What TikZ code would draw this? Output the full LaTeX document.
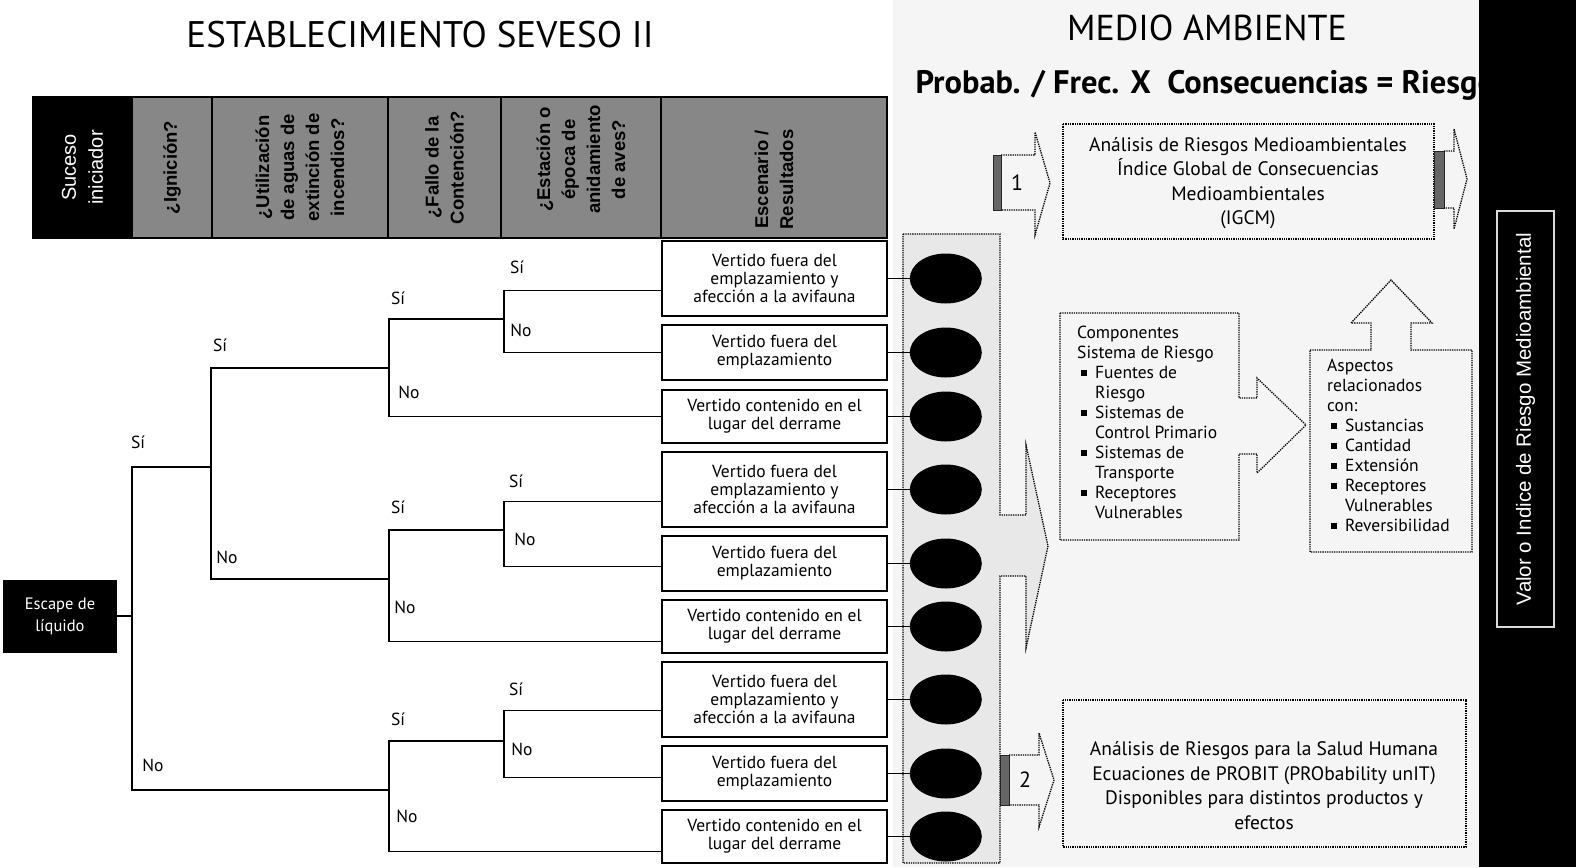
\documentclass[tikz,border=0pt]{standalone}
\usepackage{fontspec}
\setmainfont{PT Sans}
\newfontfamily\arialfont{Liberation Sans}
\usetikzlibrary{positioning,calc,shapes.geometric}
\newcommand*{\sq}{\hspace*{4pt}\rule[0.22ex]{0.34em}{0.34em}}

\begin{document}
\begin{tikzpicture}[x=1pt,y=-1pt,
  cell/.style={draw=black,line width=1.2pt,fill=black!47,minimum height=141pt,inner sep=0pt},
  htext/.style={rotate=90,align=center,font=\arialfont\bfseries\fontsize{18.5}{25}\selectfont},
  res/.style={draw=black,line width=1.2pt,fill=white,minimum width=225pt,align=center,inner sep=0pt,font=\fontsize{17.5}{18}\selectfont},
  blob/.style={ellipse,fill=black,minimum width=72pt,minimum height=50pt,inner sep=0pt},
  yn/.style={font=\fontsize{17.5}{20}\selectfont},
  dots/.style={densely dotted,line width=1.3pt},
  hatch/.style={fill=black!60,draw=black!85,line width=0.8pt},
  branch/.style={line width=1.4pt},
  info/.style={align=center,font=\fontsize{19.5}{24.5}\selectfont},
  lst/.style={anchor=west,inner sep=0pt,font=\fontsize{17.5}{20}\selectfont}]
\useasboundingbox (0,0) rectangle (1576,867);
\fill[white] (0,0) rectangle (1576,867);
% Light panel on the right
\fill[black!4] (893,0) rectangle (1479,867);
% Titles
\node[font=\fontsize{37}{40}\selectfont] (tit1) at (420,35) {ESTABLECIMIENTO SEVESO II};
\node[font=\fontsize{36}{40}\selectfont] (tit2) at (1207,28) {MEDIO AMBIENTE};
\node[anchor=west,font=\bfseries\fontsize{32.5}{36}\selectfont] (formula) at (912,85) {Probab. / Frec. X\ \ Consecuencias = Riesgo};
% Header row
\node[cell,fill=black,minimum width=99pt] (h0) at (82.5,167.5) {};
\node[htext,text=white,font=\arialfont\fontsize{20}{27}\selectfont] at (h0) {Suceso\\iniciador};
\node[cell,minimum width=80pt] (h1) at (172,167.5) {};
\node[htext] at (h1) {¿Ignición?};
\node[cell,minimum width=176pt] (h2) at (300,167.5) {};
\node[htext] at (h2) {¿Utilización\\de aguas de\\extinción de\\incendios?};
\node[cell,minimum width=113pt] (h3) at (444.5,167.5) {};
\node[htext] at (h3) {¿Fallo de la\\Contención?};
\node[cell,minimum width=160pt] (h4) at (581,167.5) {};
\node[htext,xshift=8pt] at (h4) {¿Estación o\\época de\\anidamiento\\de aves?};
\node[cell,minimum width=226pt] (h5) at (774,167.5) {};
\node[htext,xshift=-12pt] at (h5) {Escenario /\\Resultados};
% Initiating event
\node[fill=black,text=white,minimum width=114pt,minimum height=73pt,align=center,font=\fontsize{16.5}{22}\selectfont] (esc) at (60,616) {Escape de\\líquido};
% Scenario boxes
\node[res,minimum height=75pt] (r1) at (774.5,278.5) {Vertido fuera del\\emplazamiento y\\afección a la avifauna};
\node[res,minimum height=55pt] (r2) at (774.5,352.5) {Vertido fuera del\\emplazamiento};
\node[res,minimum height=53pt] (r3) at (774.5,416.5) {Vertido contenido en el\\lugar del derrame};
\node[res,minimum height=75pt] (r4) at (774.5,489.5) {Vertido fuera del\\emplazamiento y\\afección a la avifauna};
\node[res,minimum height=55pt] (r5) at (774.5,563.5) {Vertido fuera del\\emplazamiento};
\node[res,minimum height=53pt] (r6) at (774.5,626.5) {Vertido contenido en el\\lugar del derrame};
\node[res,minimum height=75pt] (r7) at (774.5,699.5) {Vertido fuera del\\emplazamiento y\\afección a la avifauna};
\node[res,minimum height=55pt] (r8) at (774.5,773.5) {Vertido fuera del\\emplazamiento};
\node[res,minimum height=53pt] (r9) at (774.5,836.5) {Vertido contenido en el\\lugar del derrame};
% Branch points
\coordinate (f1) at (132,616);
\coordinate (f2) at (211,467);
\coordinate (f3a) at (389,368);
\coordinate (f3b) at (389,579);
\coordinate (f3c) at (389,790);
\coordinate (f4a) at (504,319);
\coordinate (f4b) at (504,530);
\coordinate (f4c) at (504,741);
% Event tree
\draw[branch] (esc) -- (f1);
\draw[branch] (f2) -| (f1) |- (f3c);
\draw[branch] (f3a) -| (f2) |- (f3b);
\draw[branch] (f4a) -| (f3a) |- (r3.west);
\draw[branch] (f4b) -| (f3b) |- ([yshift=-15pt]r6.west);
\draw[branch] (f4c) -| (f3c) |- ([yshift=-15pt]r9.west);
\draw[branch] ([yshift=-12pt]r1.west) -| (f4a) |- (r2.west);
\draw[branch] ([yshift=-12pt]r4.west) -| (f4b) |- ([yshift=-3pt]r5.west);
\draw[branch] ([yshift=-11pt]r7.west) -| (f4c) |- ([yshift=-4pt]r8.west);
% Yes / no labels
\node[yn] (s1) at (138,442) {Sí};
\node[yn] (n1) at (153,765) {No};
\node[yn] (s2) at (220,345) {Sí};
\node[yn] (n2) at (227,557) {No};
\node[yn] (s3a) at (398,298) {Sí};
\node[yn] (n3a) at (409,392) {No};
\node[yn] (s3b) at (398,507) {Sí};
\node[yn] (n3b) at (405,607) {No};
\node[yn] (s3c) at (398,719) {Sí};
\node[yn] (n3c) at (407,816) {No};
\node[yn] (s4a) at (517,267) {Sí};
\node[yn] (n4a) at (521,330) {No};
\node[yn] (s4b) at (516,481) {Sí};
\node[yn] (n4b) at (525,539) {No};
\node[yn] (s4c) at (516,689) {Sí};
\node[yn] (n4c) at (522,749) {No};
% Frame round the results, with big arrow
\draw[dots,fill=black!9] (903,234) -- (1000,234) -- (1000,515) -- (1026,515) -- (1026,445) -- (1048,546) -- (1026,648) -- (1026,576) -- (1000,576) -- (1000,863) -- (903,863) -- cycle;
% Results
\node[blob,right=22pt of r1] (e1) {};
\node[blob,right=22pt of r2] (e2) {};
\node[blob,right=22pt of r3] (e3) {};
\node[blob,right=22pt of r4] (e4) {};
\node[blob,right=22pt of r5] (e5) {};
\node[blob,right=22pt of r6] (e6) {};
\node[blob,right=22pt of r7] (e7) {};
\node[blob,right=22pt of r8] (e8) {};
\node[blob,right=22pt of r9] (e9) {};
\draw[line width=1.2pt] (r1) -- (e1);
\draw[line width=1.2pt] (r2) -- (e2);
\draw[line width=1.2pt] (r3) -- (e3);
\draw[line width=1.2pt] (r4) -- (e4);
\draw[line width=1.2pt] (r5) -- (e5);
\draw[line width=1.2pt] (r6) -- (e6);
\draw[line width=1.2pt] (r7) -- (e7);
\draw[line width=1.2pt] (r8) -- (e8);
\draw[line width=1.2pt] (r9) -- (e9);
% Arrow 1 and environmental analysis
\path[hatch] (993,155) rectangle (1001,210);
\draw[dots] (1001,155) -- (1035,155) -- (1035,132) -- (1050,183) -- (1035,235) -- (1035,210) -- (1001,210);
\node[font=\fontsize{22}{24}\selectfont] (one) at (1017,183) {1};
\draw[dots] (1063,124) rectangle (1434,239);
\node[info] (igcm) at (1248,183) {Análisis de Riesgos Medioambientales\\Índice Global de Consecuencias\\Medioambientales\\(IGCM)};
\path[hatch] (1434,151) rectangle (1444,208);
\draw[dots] (1444,151) -- (1454,151) -- (1454,129) -- (1467,179) -- (1454,229) -- (1454,208) -- (1444,208);
% Components of the risk system
\draw[dots] (1060,313) -- (1239,313) -- (1239,398) -- (1257,398) -- (1257,378) -- (1306,425) -- (1257,473) -- (1257,454) -- (1239,454) -- (1239,540) -- (1060,540) -- cycle;
\node[lst] (comp) at (1077,424) {\begin{tabular}{@{}l@{\hspace{8pt}}l@{}}
\multicolumn{2}{@{}l@{}}{Componentes}\\
\multicolumn{2}{@{}l@{}}{Sistema de Riesgo}\\
\sq & Fuentes de\\
 & Riesgo\\
\sq & Sistemas de\\
 & Control Primario\\
\sq & Sistemas de\\
 & Transporte\\
\sq & Receptores\\
 & Vulnerables
\end{tabular}};
% Related aspects, with arrow up
\draw[dots] (1310,350) -- (1371,350) -- (1371,323) -- (1351,323) -- (1391,280) -- (1432,323) -- (1411,323) -- (1411,350) -- (1472,350) -- (1472,552) -- (1310,552) -- cycle;
\node[lst] (asp) at (1327,447) {\begin{tabular}{@{}l@{\hspace{8pt}}l@{}}
\multicolumn{2}{@{}l@{}}{Aspectos}\\
\multicolumn{2}{@{}l@{}}{relacionados}\\
\multicolumn{2}{@{}l@{}}{con:}\\
\sq & Sustancias\\
\sq & Cantidad\\
\sq & Extensión\\
\sq & Receptores\\
 & Vulnerables\\
\sq & Reversibilidad
\end{tabular}};
% Arrow 2 and human health analysis
\path[hatch] (1000,755) rectangle (1009,805);
\draw[dots] (1009,755) -- (1039,755) -- (1039,733) -- (1054,780) -- (1039,827) -- (1039,805) -- (1009,805);
\node[font=\fontsize{22}{24}\selectfont] (two) at (1025,780) {2};
\draw[dots] (1063,700) rectangle (1466,847);
\node[info] (salud) at (1264,785.5) {Análisis de Riesgos para la Salud Humana\\Ecuaciones de PROBIT (PRObability unIT)\\Disponibles para distintos productos y\\efectos};
% Black bar with the index
\fill[black] (1479,0) rectangle (1576,867);
\node[draw=black!15,line width=1.5pt,fill=black,minimum width=57pt,minimum height=416pt] (valor) at (1525.5,419) {};
\node[rotate=90,text=white,font=\arialfont\fontsize{20.5}{22}\selectfont] at (valor) {Valor o Indice de Riesgo Medioambiental};
\end{tikzpicture}
\end{document}
